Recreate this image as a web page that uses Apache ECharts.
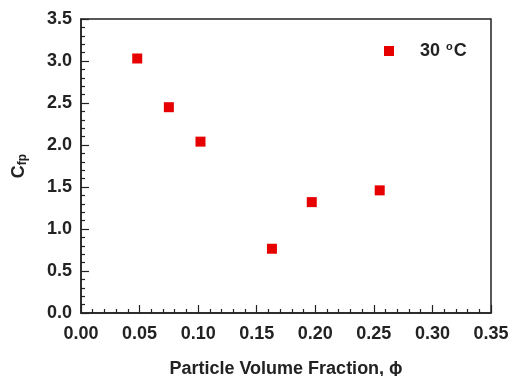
<!DOCTYPE html>
<html>
<head>
<meta charset="utf-8">
<script src="https://cdn.jsdelivr.net/npm/echarts@6/dist/echarts.min.js"></script>
<style>
  html, body { margin: 0; padding: 0; background: #fff; }
  #chart { width: 512px; height: 376px; }
</style>
</head>
<body>
<div id="chart"></div>
<script>
// data
const phi = [0.048, 0.075, 0.102, 0.163, 0.197, 0.255];
const cfp = [3.03, 2.45, 2.04, 0.765, 1.32, 1.46];
const seriesName = "30 °C";

const font = "'Liberation Sans', Arial, sans-serif";
const ink = "#222";

const chart = echarts.init(document.getElementById("chart"));

const option = {
  animation: false,
  grid: {
    left: 81, right: 21, top: 19, bottom: 63,
    outerBoundsMode: "none",
    show: true, borderColor: ink, borderWidth: 1.5,
  },
  legend: {
    left: 379, top: 36,
    itemWidth: 10, itemHeight: 10,
    icon: "rect",
    formatter: () => "30 {sup|o}C",
    textStyle: {
      fontFamily: font, fontWeight: "bold", fontSize: 18, color: ink,
      padding: [0, 0, 0, 21],
      rich: {
        sup: { fontFamily: font, fontWeight: "bold", fontSize: 11, color: ink, verticalAlign: "top", padding: [0, 1, 9, 1] },
      },
    },
  },
  xAxis: {
    type: "value",
    min: 0, max: 0.35, interval: 0.05,
    name: "Particle Volume Fraction, ϕ",
    nameLocation: "middle",
    nameGap: 47,
    nameTextStyle: { fontFamily: font, fontWeight: "bold", fontSize: 18, color: ink },
    axisLine: { show: true, lineStyle: { color: ink, width: 1.5 } },
    axisTick: { show: true, inside: true, length: 8, lineStyle: { color: ink, width: 1.2 } },
    minorTick: { show: true, splitNumber: 5, length: 4, lineStyle: { color: ink, width: 1.2 } },
    splitLine: { show: false },
    axisLabel: {
      margin: 12,
      fontFamily: font, fontWeight: "bold", fontSize: 18, color: ink,
      formatter: (v) => v.toFixed(2),
    },
  },
  yAxis: {
    type: "value",
    min: 0, max: 3.5, interval: 0.5,
    name: "C{sub|fp}",
    nameLocation: "middle",
    nameGap: 52,
    nameRotate: 90,
    nameTextStyle: {
      fontFamily: font, fontWeight: "bold", fontSize: 18, color: ink,
      rich: {
        sub: { fontFamily: font, fontWeight: "bold", fontSize: 12, color: ink, verticalAlign: "bottom", padding: [8, 0, 0, 0] },
      },
    },
    axisLine: { show: true, lineStyle: { color: ink, width: 1.5 } },
    axisTick: { show: true, inside: true, length: 8, lineStyle: { color: ink, width: 1.2 } },
    minorTick: { show: true, splitNumber: 5, length: 4, lineStyle: { color: ink, width: 1.2 } },
    splitLine: { show: false },
    axisLabel: {
      margin: 9,
      fontFamily: font, fontWeight: "bold", fontSize: 18, color: ink,
      formatter: (v) => v.toFixed(1),
    },
  },
  series: [
    {
      name: seriesName,
      type: "scatter",
      symbol: "rect",
      symbolSize: 10,
      itemStyle: { color: "#e60000", opacity: 1 },
      data: phi.map((x, i) => [x, cfp[i]]),
    },
  ],
};

chart.setOption(option);
</script>
</body>
</html>
